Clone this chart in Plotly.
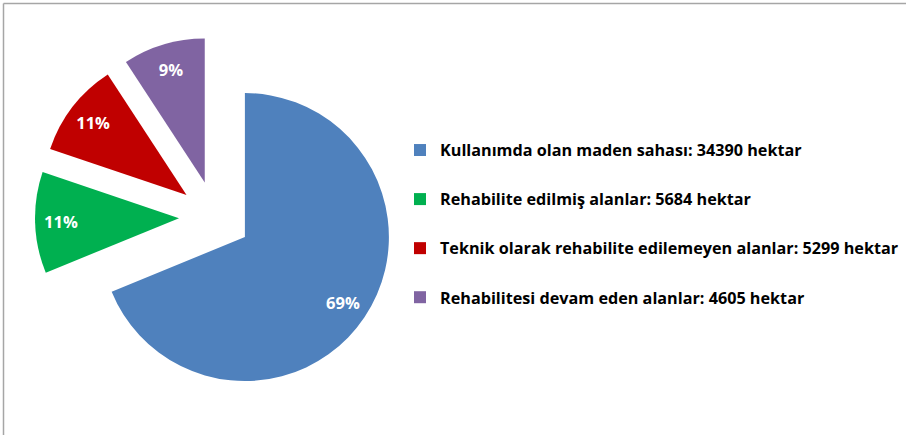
import plotly.graph_objects as go

labels = [
    "Kullanımda olan maden sahası",
    "Rehabilite edilmiş alanlar",
    "Teknik olarak rehabilite edilemeyen alanlar",
    "Rehabilitesi devam eden alanlar",
]
values = [34390, 5684, 5299, 4605]
unit = "hektar"
colors = ["#4F81BD", "#00B050", "#C00000", "#8064A2"]
pulls = [0.25, 0.25, 0.25, 0.25]

W, H = 906, 435
FONT = "Open Sans"

# pie box (pixels): centre and half size
CX, CY, HALF = 215, 217, 180
dom = dict(x=[(CX - HALF) / W, (CX + HALF) / W],
           y=[1 - (CY + HALF) / H, 1 - (CY - HALF) / H])

fig = go.Figure()

# coloured pie, no text
fig.add_trace(go.Pie(
    labels=labels, values=values, sort=False,
    direction="clockwise", rotation=0, pull=pulls,
    marker=dict(colors=colors, line=dict(width=0)),
    textinfo="none",
    domain=dom, showlegend=False,
    hoverinfo="label+value+percent",
))

# transparent ring on top, used only to place the percentage labels outward
fig.add_trace(go.Pie(
    labels=labels, values=values, sort=False,
    direction="clockwise", rotation=0, pull=pulls, hole=0.64,
    marker=dict(colors=["rgba(0,0,0,0)"] * len(values), line=dict(width=0)),
    texttemplate="%{percent:.0%}",
    textposition="inside",
    insidetextorientation="horizontal",
    textfont=dict(family=FONT, size=16.5, color="white", weight="bold"),
    domain=dom, showlegend=False,
    hoverinfo="skip",
))

# legend entries (one group per category so the gaps can be set)
for i, (lab, val, col) in enumerate(zip(labels, values, colors)):
    fig.add_trace(go.Scatter(
        x=[None], y=[None], mode="markers",
        marker=dict(symbol="square", size=9, color=col),
        name=f"{lab}: {val} {unit}",
        legendgroup=f"g{i}",
        showlegend=True,
    ))

fig.update_layout(
    width=W, height=H,
    margin=dict(l=0, r=0, t=0, b=0),
    paper_bgcolor="white",
    plot_bgcolor="white",
    xaxis=dict(visible=False),
    yaxis=dict(visible=False),
    legend=dict(
        x=400 / W, xanchor="left",
        y=1 - 133 / H, yanchor="top",
        font=dict(family=FONT, size=16.2, color="black", weight="bold"),
        tracegroupgap=25,
        itemsizing="constant",
        bgcolor="rgba(0,0,0,0)",
    ),
    shapes=[
        dict(type="line", xref="paper", yref="paper",
             x0=3.5 / W, x1=1, y0=1 - 3.5 / H, y1=1 - 3.5 / H,
             line=dict(color="#A6A6A6", width=1.5)),
        dict(type="line", xref="paper", yref="paper",
             x0=3.5 / W, x1=3.5 / W, y0=0, y1=1 - 3.5 / H,
             line=dict(color="#A6A6A6", width=1.5)),
    ],
)

fig.write_html(
    "out.html",
    config={"displayModeBar": False},
    post_script="document.body.style.margin='0px';document.body.style.overflow='hidden';",
)
